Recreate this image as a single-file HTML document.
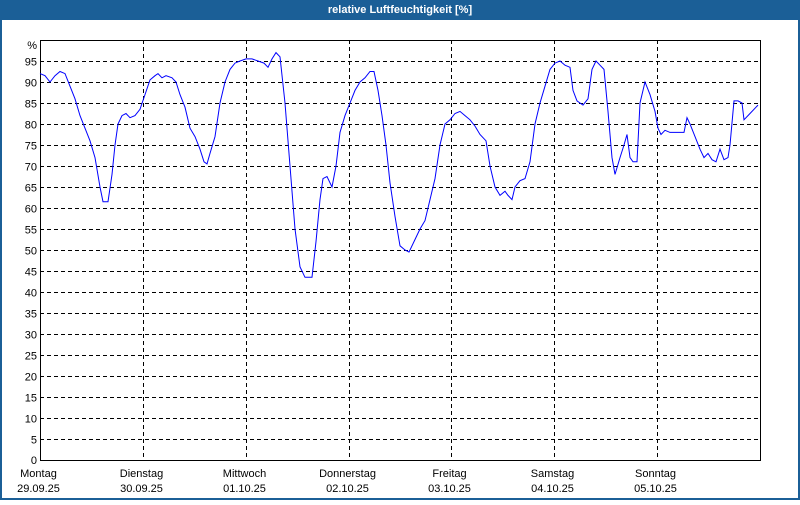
<!DOCTYPE html>
<html><head><style>body{margin:0;width:800px;height:500px;overflow:hidden;background:#fff}</style></head><body>
<svg width="800" height="500" xmlns="http://www.w3.org/2000/svg" font-family="Liberation Sans, sans-serif" font-size="11">
<rect x="0" y="0" width="800" height="500" fill="#1b5f97"/>
<rect x="2" y="20" width="796" height="478" fill="#fff"/>
<text x="400" y="13" fill="#fff" font-weight="bold" text-anchor="middle">relative Luftfeuchtigkeit [%]</text>
<g id="grid" stroke="#000" stroke-dasharray="4,3" stroke-width="1"></g>
<rect x="40.5" y="40.5" width="720" height="420" fill="none" stroke="#000"/>
<g id="yl" text-anchor="end" fill="#000"></g>
<g id="xl" text-anchor="middle" fill="#000"></g>
<polyline id="ln" fill="none" stroke="#0000ff" stroke-width="1"/>
</svg>
<script>
var ns="http://www.w3.org/2000/svg",g=document.getElementById('grid'),yl=document.getElementById('yl'),xl=document.getElementById('xl');
function el(t,a,p,tx){var e=document.createElementNS(ns,t);for(var k in a)e.setAttribute(k,a[k]);if(tx)e.textContent=tx;p.appendChild(e);}
for(var v=5;v<=95;v+=5){var y=Math.round(460-4.2*v)+.5;el('line',{x1:40,x2:760,y1:y,y2:y},g);el('text',{x:37,y:y+4},yl,v);}
el('text',{x:37,y:464},yl,'0');el('text',{x:37,y:49},yl,'%');
var days=[['Montag','29.09.25'],['Dienstag','30.09.25'],['Mittwoch','01.10.25'],['Donnerstag','02.10.25'],['Freitag','03.10.25'],['Samstag','04.10.25'],['Sonntag','05.10.25']];
for(var i=0;i<7;i++){var x=Math.round(40+i*102.86)+.5;if(i>0)el('line',{x1:x,x2:x,y1:40,y2:460},g);el('text',{x:x-2,y:477},xl,days[i][0]);el('text',{x:x-2,y:492},xl,days[i][1]);}
var d=[40,92,45,91.5,50,90,55,91.5,60,92.5,65,92,70,89,75,86,80,82,85,79,90,76,95,72,100,65,103,61.5,108,61.5,112,68,115,75,118,80,122,82,126,82.5,130,81.5,135,82,140,83.5,145,87,150,90.5,155,91.5,158,92,162,91,166,91.5,172,91,176,90,180,87,185,84,190,79,195,77,200,74,204,71,207,70.5,210,73,215,77,220,85,225,90,230,93,235,94.5,240,95,246,95.5,252,95.5,258,95,264,94.5,268,93.5,272,95.5,276,97,280,96,285,85,290,70,295,55,300,46,305,43.5,312,43.5,316,52,320,62,323,67,327,67.5,332,65,336,70,340,78,345,82,350,85,355,88,360,90,365,91,370,92.5,374,92.5,378,88,382,82,386,75,390,66,395,58,400,51,405,50,409,49.5,414,52,420,55,425,57,430,62,435,67,440,75,445,80,450,81,455,82.5,460,83,465,82,470,81,475,79.5,480,77.5,486,76,490,70,495,65,500,63,505,64,508,63,512,62,515,65,520,66.5,525,67,530,71,535,80,540,85,545,89,550,93,555,94.5,560,95,565,94,570,93.5,573,88,577,85.5,583,84.5,588,86,592,93,596,95,600,94,604,93,608,83,612,72,615,68,620,72,624,75,627,77.5,630,72,633,71,637,71,640,85,645,90,650,87,655,83,658,79,661,77.5,665,78.5,670,78,675,78,680,78,684,78,687,81.5,690,80,695,77,700,74,704,72,708,73,712,71.5,716,71,720,74,724,71.5,728,72,730,75,734,85.5,738,85.5,742,85,744,81,750,82.5,756,84,758,84.5];
var p=[];for(var i=0;i<d.length;i+=2)p.push(d[i]+','+(460-4.2*d[i+1]).toFixed(1));
document.getElementById('ln').setAttribute('points',p.join(' '));
</script>
</body></html>
